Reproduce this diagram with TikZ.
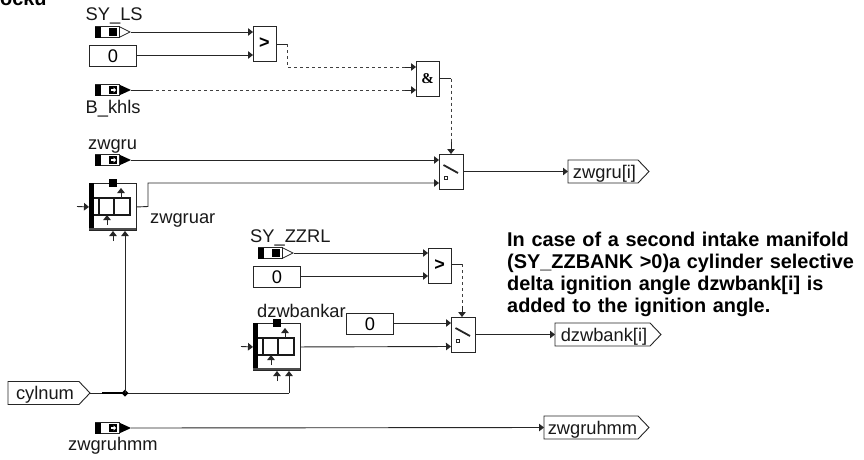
\documentclass[tikz,border=0pt]{standalone}
\usepackage{fontspec}
\setmainfont{Liberation Sans}
\newfontfamily\ampfont{Liberation Serif}
\usetikzlibrary{arrows.meta}
\tikzset{
  x=1pt,y=-1pt,
  wire/.style={draw=black!85,line width=0.9pt},
  sig/.style={wire,-{Triangle[length=5pt,width=7.5pt]}},
  dotted line/.style={draw=black!75,line width=0.9pt,dash pattern=on 3pt off 3pt},
  lab/.style={inner sep=0pt,anchor=base west,font=\fontsize{18.3}{21}\selectfont,text=black!90},
  blockbox/.style={draw=black!85,line width=0.9pt,fill=white,inner sep=0pt,anchor=north west},
  note/.style={inner sep=0pt,anchor=base west,align=left,font=\fontsize{19.9}{22.2}\selectfont\bfseries},
}
% \pinblock{name}{x}{y (centre)}{1 = white tip with square, 0 = black tip with arrow}
\newcommand\pinblock[4]{%
  \ifnum#4=1
    \draw[draw=black!85,line width=0.7pt,fill=white] (#2+24,#3-5.5) -- (#2+35,#3) -- (#2+24,#3+5.5) -- cycle;
  \else
    \fill[black] (#2+24,#3-5.5) -- (#2+36,#3) -- (#2+24,#3+5.5) -- cycle;
  \fi
  \draw[draw=black!85,line width=0.7pt,fill=white] (#2,#3-5.5) rectangle (#2+24,#3+5.5);
  \fill[black] (#2,#3-5.5) rectangle (#2+6,#3+5.5);
  \ifnum#4=1
    \fill[black] (#2+14,#3-4) rectangle (#2+22,#3+4);
  \else
    \fill[black] (#2+14,#3-4) rectangle (#2+22,#3+4);
    \fill[white] (#2+16,#3-1.2) rectangle (#2+18.5,#3+1.2);
    \fill[white] (#2+18.5,#3-2.6) -- (#2+21,#3) -- (#2+18.5,#3+2.6) -- cycle;
  \fi
  \coordinate (#1) at (#2+36,#3);
}
% \tagbox{name}{x}{y top}{width}{text} : pentagon label pointing right
\newcommand\tagbox[5]{%
  \draw[draw=black!85,line width=0.9pt,fill=white] (#2,#3) -- (#2+#4-11,#3) -- (#2+#4,#3+11.5) -- (#2+#4-11,#3+23) -- (#2,#3+23) -- cycle;
  \coordinate (#1w) at (#2,#3+11.5);
  \coordinate (#1e) at (#2+#4,#3+11.5);
  \node[lab,anchor=base] (#1t) at (#2+#4/2-4,#3+18) {#5};
}
\newcommand\cmpbox[3]{%
  \node[blockbox,minimum width=23pt,minimum height=35pt] (#1) at (#2,#3) {};
  \node[inner sep=0pt,font=\fontsize{18}{18}\selectfont\bfseries] (#1s) at (#2+11.5,#3+17.5) {>};
}
\newcommand\switchbox[3]{%
  \node[blockbox,minimum width=24pt,minimum height=35pt] (#1) at (#2,#3) {};
  \draw[line width=1.8pt,black!85] (#2+4.5,#3+11) -- (#2+19,#3+19);
  \draw[line width=0.7pt,black!85] (#2+5.5,#3+22) rectangle (#2+8.5,#3+25);
}
\newcommand\zerobox[3]{%
  \node[blockbox,minimum width=47pt,minimum height=20.5pt,font=\fontsize{18.3}{21}\selectfont] (#1) at (#2,#3) {0};
}
\newcommand\mapblock[3]{%
  \node[blockbox,minimum width=47pt,minimum height=47pt] (#1) at (#2,#3) {};
  \fill[black] (#2,#3) rectangle (#2+5,#3+45);
  \fill[black] (#2+20,#3-4) rectangle (#2+28,#3+4);
  \draw[line width=1.7pt,black!90] (#2+5,#3+15) -- (#2+42,#3+15);
  \draw[line width=1.7pt,black!90] (#2+5,#3+32) -- (#2+42,#3+32);
  \draw[line width=1.7pt,black!90] (#2+10,#3+15) -- (#2+10,#3+32);
  \draw[line width=1.7pt,black!90] (#2+25,#3+15) -- (#2+25,#3+32);
  \draw[line width=1.7pt,black!90] (#2+41,#3+15) -- (#2+41,#3+32);
  \draw[line width=1.2pt,black!70] (#2,#3+46) -- (#2+47,#3+46);
  \draw[sig] (#2+32,#3+15) -- (#2+32,#3+5);
  \draw[sig] (#2+18,#3+42) -- (#2+18,#3+32);
  \coordinate (#1l) at (#2-12,#3+23.5);
  \coordinate (#1s) at (#2+24,#3+58);
  \coordinate (#1b) at (#2+36,#3+48);
  \draw[sig] (#1l) -- (#1.west);
  \draw[sig] (#1s) -- (#2+24,#3+48);
}
\begin{document}
\begin{tikzpicture}
\clip (0,0) rectangle (864,459);
\fill[white] (0,0) rectangle (864,459);

% top-edge title, cut by the picture edge as in the reference
\node[note] (title) at (0,5) {ocku};

% top comparator
\pinblock{pSYLS}{95}{32}{1}
\node[lab] (lSYLS) at (85.5,20) {SY\_LS};
\zerobox{zero1}{89}{45}
\cmpbox{gt1}{253}{26}
\coordinate (gt1a) at (253,32);
\coordinate (gt1b) at (253,55);
\draw[sig] (pSYLS) -- (gt1a);
\draw[sig] (zero1.east |- gt1b) -- (gt1b);

% B_khls
\pinblock{pBkhls}{95}{90}{0}
\node[lab] (lBkhls) at (85.5,113.5) {B\_khls};
\node[blockbox,minimum width=23pt,minimum height=35pt] (and1) at (416,61) {};
\node[inner sep=0pt,font=\fontsize{15}{15}\selectfont\ampfont\bfseries] (and1s) at (427.5,78.5) {\&};
\coordinate (and1a) at (416,67);
\coordinate (and1b) at (416,90);
\coordinate (gt1o) at (276,44);
\coordinate (gt1k) at (287,44);
\coordinate (gt1d) at (287,67);
\coordinate (pBk2) at (150,90);
\draw[wire] (gt1o) -- (gt1k);
\draw[dotted line] (gt1k) -- (gt1d) -- (405,67);
\draw[sig] (405,67) -- (and1a);
\draw[wire] (pBkhls) -- (pBk2);
\draw[dotted line] (pBk2) -- (405,90);
\draw[sig] (405,90) -- (and1b);

% upper switch
\switchbox{sw1}{439}{154}
\coordinate (and1o) at (439,78.5);
\coordinate (and1k) at (451,78.5);
\coordinate (sw1t) at (451,154);
\coordinate (sw1m) at (451,142);
\draw[wire] (and1o) -- (and1k);
\draw[dotted line] (and1k) -- (sw1m);
\draw[sig] (sw1m) -- (sw1t);

\pinblock{pzwgru}{95}{160}{0}
\node[lab] (lzwgru) at (88,149) {zwgru};
\draw[sig] (pzwgru) -- (439,160);

\mapblock{map1}{89}{183}
\node[lab] (lmap1) at (150,223) {zwgruar};
\draw[sig] (map1.east) -- (148,206.5) -- (148,183) -- (439,183);

\tagbox{outA}{568}{160}{81}{zwgru[i]}
\draw[sig] (463,171.5) -- (outAw);

% lower comparator
\pinblock{pZZRL}{258}{253}{1}
\node[lab] (lZZRL) at (250,242) {SY\_ZZRL};
\zerobox{zero2}{253}{266}
\cmpbox{gt2}{428}{248}
\draw[sig] (pZZRL) -- (428,253);
\draw[sig] (zero2.east |- 0,276) -- (428,276);

\switchbox{sw2}{451}{317}
\coordinate (gt2k) at (462,264);
\coordinate (sw2m) at (462,306);
\draw[wire] (451,264) -- (gt2k);
\draw[dotted line] (gt2k) -- (sw2m);
\draw[sig] (sw2m) -- (462,317);

\zerobox{zero3}{346}{313}
\draw[sig] (zero3.east |- 0,323) -- (451,323);

\mapblock{map2}{253}{323}
\node[lab] (lmap2) at (257,317) {dzwbankar};
\draw[sig] (map2.east) -- (451,346.5);

\tagbox{outB}{555}{323}{106}{dzwbank[i]}
\draw[sig] (475,334.5) -- (outBw);

% cylnum
\tagbox{cyl}{8}{381.5}{82}{cylnum}
\coordinate (jn) at (125,393);
\coordinate (jnr) at (289,393);
\draw[wire] (cyle) -- (jnr);
\draw[line width=1.8pt,black] (102,393) -- (jn);
\fill[black] (125,389.5) -- (128.5,393) -- (125,396.5) -- (121.5,393) -- cycle;
\draw[sig] (jn) -- (map1b);
\draw[sig] (jnr) -- (map2b);

% zwgruhmm
\pinblock{phmm}{95}{428}{0}
\node[lab] (lhmm) at (68,450) {zwgruhmm};
\tagbox{outC}{544}{416}{105}{zwgruhmm}
\draw[sig] (phmm) -- (outCw);

% note
\node[note,text width=355pt] (noteA) at (507,246) {In case of a second intake manifold\\(SY\_ZZBANK >0)a cylinder selective\\delta ignition angle dzwbank[i] is\\added to the ignition angle.};
\end{tikzpicture}
\end{document}
